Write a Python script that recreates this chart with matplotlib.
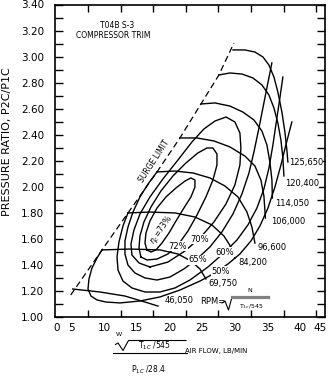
import matplotlib
matplotlib.use("Agg")
import matplotlib.pyplot as plt
from matplotlib.lines import Line2D
from matplotlib.ticker import MultipleLocator

# ---------------- data ----------------
surge_x = [4.85, 9.65, 13.63, 18.08, 21.60, 24.82, 27.58, 29.88]
surge_y = [1.169, 1.515, 1.799, 2.114, 2.375, 2.636, 2.859, 3.104]

speed_labels = ["125,650", "120,400", "114,050", "106,000", "96,600", "84,200", "69,750", "46,050"]
spd_125650_x = [29.73, 31.57, 33.10, 34.33, 35.25, 36.02, 36.62, 37.24, 37.70, 38.00, 38.16]
spd_125650_y = [3.051, 3.051, 3.035, 2.997, 2.935, 2.843, 2.728, 2.574, 2.421, 2.283, 2.190]
spd_120400_x = [27.58, 29.27, 31.11, 32.79, 34.18, 35.25, 36.02, 36.62, 37.09, 37.39, 37.55]
spd_120400_y = [2.859, 2.874, 2.866, 2.836, 2.782, 2.705, 2.605, 2.490, 2.359, 2.221, 2.083]
spd_114050_x = [24.82, 26.97, 29.27, 31.26, 32.95, 34.18, 34.94, 35.40, 35.71, 35.78]
spd_114050_y = [2.636, 2.644, 2.620, 2.574, 2.513, 2.428, 2.321, 2.190, 2.052, 1.914]
spd_106000_x = [21.60, 24.21, 26.82, 29.27, 31.57, 33.10, 34.02, 34.48, 34.71]
spd_106000_y = [2.375, 2.375, 2.352, 2.306, 2.236, 2.160, 2.052, 1.929, 1.760]
spd_96600_x = [18.08, 20.84, 23.60, 26.20, 28.50, 30.50, 31.88, 32.64, 33.10]
spd_96600_y = [2.114, 2.121, 2.106, 2.068, 2.006, 1.922, 1.806, 1.691, 1.568]
spd_84200_x = [13.63, 17.00, 20.84, 23.90, 26.51, 28.35, 29.42, 30.03]
spd_84200_y = [1.799, 1.806, 1.799, 1.768, 1.707, 1.622, 1.538, 1.453]
spd_69750_x = [9.65, 13.94, 18.54, 21.30, 23.29, 24.67, 25.59]
spd_69750_y = [1.515, 1.522, 1.515, 1.484, 1.430, 1.369, 1.292]
spd_46050_x = [5.15, 9.34, 13.17, 16.24, 18.23]
spd_46050_y = [1.215, 1.192, 1.161, 1.115, 1.084]

eff_labels = ["50%", "60%", "65%", "70%", "72%"]
eff50_x = [9.65, 8.88, 8.11, 7.65, 7.50, 7.96, 8.88, 10.26, 12.40, 15.47, 18.54, 21.60, 24.67,
           26.97, 28.96, 30.80, 32.49, 33.87, 35.10, 36.17, 37.09, 37.85, 38.77]
eff50_y = [1.515, 1.453, 1.376, 1.292, 1.215, 1.161, 1.131, 1.115, 1.108, 1.123, 1.154, 1.207, 1.276,
           1.338, 1.407, 1.484, 1.584, 1.699, 1.837, 1.998, 2.167, 2.321, 2.498]
eff60_x = [13.63, 12.86, 12.25, 11.95, 12.10, 12.86, 14.24, 16.24, 18.54, 20.84, 23.14, 25.90,
           28.35, 30.34, 32.03, 33.41, 34.48, 35.25, 35.86, 36.47, 36.93, 37.39]
eff60_y = [1.799, 1.699, 1.576, 1.461, 1.361, 1.276, 1.223, 1.192, 1.192, 1.223, 1.284, 1.384,
           1.492, 1.591, 1.707, 1.837, 1.983, 2.144, 2.321, 2.528, 2.682, 2.843]
eff65_x = [18.08, 16.70, 15.47, 14.40, 13.63, 13.17, 13.17, 13.63, 14.70, 16.24, 18.08, 20.07,
           22.21, 24.21, 26.20, 28.04, 29.73, 31.11, 32.19, 32.95, 33.72, 34.63, 35.70]
eff65_y = [2.114, 2.021, 1.922, 1.806, 1.691, 1.584, 1.484, 1.399, 1.338, 1.300, 1.284, 1.307,
           1.369, 1.445, 1.538, 1.653, 1.791, 1.945, 2.106, 2.267, 2.452, 2.682, 2.951]
eff70_x = [17.00, 15.32, 14.24, 14.09, 14.55, 15.47, 17.00, 18.99, 21.30, 23.44, 25.28, 26.97,
           28.66, 30.03, 30.80, 30.95, 30.80, 30.03, 28.66, 26.82, 24.67, 22.37, 19.76, 17.00]
eff70_y = [1.384, 1.415, 1.476, 1.561, 1.668, 1.791, 1.922, 2.060, 2.206, 2.344, 2.444, 2.505,
           2.536, 2.498, 2.413, 2.298, 2.167, 2.014, 1.868, 1.730, 1.607, 1.507, 1.422, 1.384]
eff72_x = [15.62, 15.32, 15.47, 16.08, 17.16, 18.69, 20.53, 22.52, 24.36, 25.74, 26.66, 27.28,
           27.28, 26.66, 25.59, 24.21, 22.83, 21.30, 19.76, 18.08, 16.54, 15.62]
eff72_y = [1.461, 1.530, 1.622, 1.730, 1.845, 1.968, 2.083, 2.183, 2.260, 2.298, 2.298, 2.252,
           2.167, 2.052, 1.922, 1.783, 1.660, 1.553, 1.484, 1.445, 1.438, 1.461]
eff73_x = [16.54, 16.24, 16.39, 17.00, 18.08, 19.46, 20.99, 22.37, 23.29, 23.90, 23.90, 23.29,
           22.21, 20.99, 19.92, 18.84, 17.92, 17.16, 16.54]
eff73_y = [1.515, 1.568, 1.645, 1.737, 1.837, 1.922, 1.991, 2.044, 2.068, 2.052, 1.998, 1.922,
           1.837, 1.737, 1.645, 1.568, 1.515, 1.499, 1.515]

x_tick_labels = ["0", "5", "10", "15", "20", "25", "30", "35", "40", "45"]
y_tick_labels = ["1.00", "1.20", "1.40", "1.60", "1.80", "2.00", "2.20", "2.40",
                 "2.60", "2.80", "3.00", "3.20", "3.40"]

# ---------------- layout ----------------
W, H = 332, 382
plt.rcParams["font.family"] = "DejaVu Sans"
fig = plt.figure(figsize=(W / 100, H / 100), dpi=100)
ax = fig.add_axes([55 / W, 1 - 317 / H, 270 / W, 312.5 / H])
ax.set_xlim(2.44, 43.85)
ax.set_ylim(1.0, 3.4)


def fx(px):
    return px / W


def fy(py):
    return 1 - py / H


for s in ax.spines.values():
    s.set_linewidth(1.2)

x_label_pos = [2.75, 5, 10, 15, 20, 25, 30, 35, 40, 43.1]
ax.set_xticks(x_label_pos)
ax.set_xticklabels(x_tick_labels, fontsize=7.5)
ax.set_xticks([5 + 2.5 * i for i in range(16)], minor=True)
ax.tick_params(axis="x", which="major", length=0, pad=4)
ax.tick_params(axis="x", which="minor", length=5, width=1, direction="in",
               top=True, bottom=True)

ax.set_yticks([1.0 + 0.2 * i for i in range(13)])
ax.set_yticklabels(y_tick_labels, fontsize=7.5)
ax.yaxis.set_minor_locator(MultipleLocator(0.1))
ax.tick_params(axis="y", which="both", direction="in", length=6, width=1,
               left=True, right=True)
ax.tick_params(axis="y", which="major", pad=8)

# surge line
ax.plot(surge_x, surge_y, color="black", lw=0.9, ls=(0, (5, 3)))

# speed lines
speeds = [(spd_125650_x, spd_125650_y), (spd_120400_x, spd_120400_y),
          (spd_114050_x, spd_114050_y), (spd_106000_x, spd_106000_y),
          (spd_96600_x, spd_96600_y), (spd_84200_x, spd_84200_y),
          (spd_69750_x, spd_69750_y), (spd_46050_x, spd_46050_y)]
for xs, ys in speeds:
    ax.plot(xs, ys, color="black", lw=1.0, solid_joinstyle="round")

# efficiency contours
effs = [(eff50_x, eff50_y), (eff60_x, eff60_y), (eff65_x, eff65_y),
        (eff70_x, eff70_y), (eff72_x, eff72_y), (eff73_x, eff73_y)]
for xs, ys in effs:
    ax.plot(xs, ys, color="black", lw=1.0, solid_joinstyle="round")

# speed labels
spd_lab_pos = [(38.31, 2.183), (37.70, 2.029), (36.17, 1.868), (35.56, 1.730),
               (33.57, 1.530), (30.50, 1.422), (25.90, 1.261), (19.30, 1.123)]
for lab, (lx, ly) in zip(speed_labels, spd_lab_pos):
    ax.text(lx, ly, lab, fontsize=6, ha="left", va="center",
            bbox=dict(facecolor="white", edgecolor="none", pad=0.2))

# efficiency labels
eff_lab_pos = [(27.89, 1.353), (28.50, 1.499), (24.36, 1.438), (24.67, 1.599), (21.30, 1.545)]
for lab, (lx, ly) in zip(eff_labels, eff_lab_pos):
    ax.text(lx, ly, lab, fontsize=6, ha="center", va="center",
            bbox=dict(facecolor="white", edgecolor="none", pad=0.3))
ax.text(18.69, 1.668, r"$\eta_{c}$=73%", fontsize=5.5, rotation=55,
        rotation_mode="anchor", ha="center", va="center")

ax.text(17.6, 2.198, "SURGE LIMIT", fontsize=5.5, rotation=57,
        rotation_mode="anchor", ha="center", va="center")

# title
fig.text(fx(117), fy(25), "T04B S-3", fontsize=5.5, ha="center", va="center")
fig.text(fx(113), fy(35), "COMPRESSOR TRIM", fontsize=5.5, ha="center", va="center")

# y label
fig.text(fx(7), fy(142), "PRESSURE RATIO, P2C/P1C", fontsize=8, rotation=90,
         ha="center", va="center")

# RPM formula
fig.text(fx(200), fy(301), "RPM=", fontsize=6, ha="left", va="center")
fig.add_artist(Line2D([fx(222), fx(225), fx(228.5), fx(232)],
                      [fy(303), fy(301), fy(310), fy(297)],
                      transform=fig.transFigure, color="black", lw=0.8))
fig.add_artist(Line2D([fx(232), fx(268)], [fy(297), fy(297)],
                      transform=fig.transFigure, color="#808080", lw=2.3))
fig.text(fx(250), fy(291), "N", fontsize=4.5, ha="center", va="center")
fig.text(fx(251), fy(307), r"T$_{1c}$/545", fontsize=4.5, ha="center", va="center")

# x-axis label formula
fig.text(fx(119), fy(334), "W", fontsize=4.5, ha="center", va="center")
fig.add_artist(Line2D([fx(115.5), fx(118), fx(123), fx(128.5), fx(186)],
                      [fy(344.5), fy(343), fy(350.5), fy(340.5), fy(340.5)],
                      transform=fig.transFigure, color="black", lw=0.8))
fig.text(fx(155), fy(346), r"T$_{1C}$ /545", fontsize=5.5, ha="center", va="center")
fig.add_artist(Line2D([fx(113), fx(187)], [fy(353), fy(353)],
                      transform=fig.transFigure, color="black", lw=0.8))
fig.text(fx(149), fy(370), r"P$_{1C}$ /28.4", fontsize=5.5, ha="center", va="center")
fig.text(fx(185), fy(351), "AIR FLOW, LB/MIN", fontsize=5, ha="left", va="center")

fig.savefig("out.png", dpi=100)
